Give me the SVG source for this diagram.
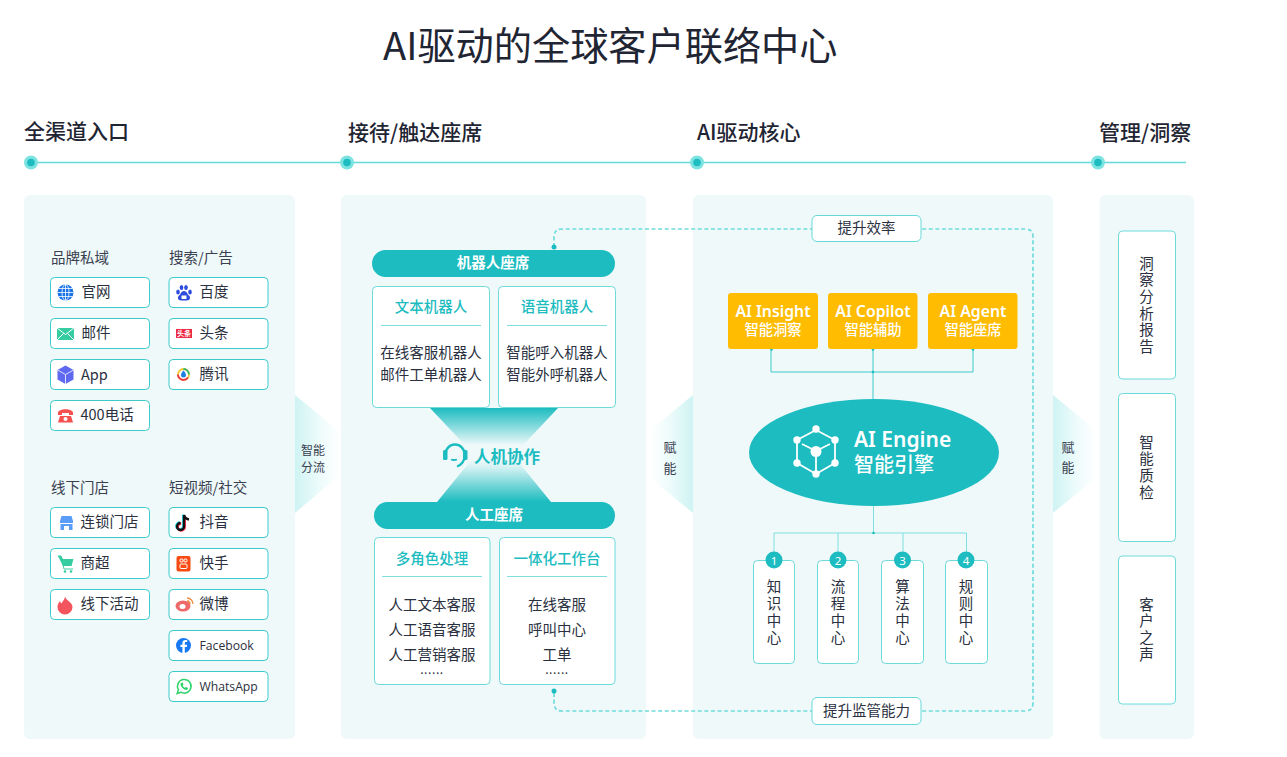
<svg xmlns="http://www.w3.org/2000/svg" width="1287" height="757" viewBox="0 0 1287 757">
<style>
text{font-family:"Noto Sans CJK SC","Noto Sans",sans-serif;fill:#2a3040}
.panel{fill:#eff9fa}
.h{font-size:21px;font-weight:500;fill:#1f2533}
.sec{font-size:14.5px;fill:#3a4050}
.item{fill:#fff;stroke:#3ccacb;stroke-width:1}
.it{font-size:14.5px}
.en{font-size:12.2px;font-family:"Open Sans","Noto Sans",sans-serif}
.card{fill:#fff;stroke:#6ddadb;stroke-width:1}
.ct{font-size:14.5px;font-weight:500;fill:#1cbcc0;text-anchor:middle}
.cb{font-size:14.5px;text-anchor:middle}
.dots{font-size:12px;letter-spacing:.6px;text-anchor:middle}
.div{stroke:#7fdfe0;stroke-width:1}
.pill{fill:#1cbcc0}
.pt{font-size:14.5px;font-weight:700;fill:#fff;text-anchor:middle}
.y{fill:#ffbc00}
.ye{font-size:15.8px;font-weight:600;fill:#fff;text-anchor:middle;font-family:"Noto Sans",sans-serif}
.yc{font-size:14.3px;font-weight:500;fill:#fff;text-anchor:middle}
.v{font-size:14.5px;writing-mode:vertical-rl;letter-spacing:2.5px}
.vr{letter-spacing:2.1px}
.w{font-size:12px;text-anchor:middle;fill:#3a4050}
.w2{font-size:13px;text-anchor:middle;fill:#3a4050}
.conn{fill:none;stroke:#3fc9ca;stroke-width:1}
.dash{fill:none;stroke:#6fdcdc;stroke-width:1.7;stroke-dasharray:4 2.6}
.lb{fill:#fff;stroke:#66d8d9;stroke-width:1}
.lt{font-size:14.5px;text-anchor:middle}
.tl{stroke:#62dad9;stroke-width:1.3}
.o{fill:#7de3e0}.i{fill:#1cbcc0}
.num{font-size:11.5px;fill:#fff;text-anchor:middle;font-family:"Noto Sans",sans-serif}
</style>
<defs>
<linearGradient id="wr" x1="0" x2="1" y1="0" y2="0"><stop offset="0" stop-color="#cff3f3"/><stop offset=".55" stop-color="#eefbfb"/><stop offset="1" stop-color="#fff"/></linearGradient>
<linearGradient id="wl" x1="1" x2="0" y1="0" y2="0"><stop offset="0" stop-color="#cff3f3"/><stop offset=".55" stop-color="#eefbfb"/><stop offset="1" stop-color="#fff"/></linearGradient>
<linearGradient id="ht" x1="0" x2="0" y1="0" y2="1"><stop offset="0" stop-color="#1cbcc0"/><stop offset=".55" stop-color="#1cbcc0" stop-opacity="0"/></linearGradient>
<linearGradient id="hb" x1="0" x2="0" y1="1" y2="0"><stop offset="0" stop-color="#1cbcc0"/><stop offset=".5" stop-color="#1cbcc0" stop-opacity=".12"/><stop offset=".6" stop-color="#1cbcc0" stop-opacity="0"/></linearGradient>
</defs>

<text id="title" x="383" y="60" style="font-size:38.2px;fill:#1f2533">AI驱动的全球客户联络中心</text>

<g id="timeline">
<line class="tl" x1="31" y1="162.5" x2="1186" y2="162.5"/>
<circle class="o" cx="31" cy="162.5" r="7"/><circle class="i" cx="31" cy="162.5" r="3.8"/>
<circle class="o" cx="347" cy="162.5" r="7"/><circle class="i" cx="347" cy="162.5" r="3.8"/>
<circle class="o" cx="697" cy="162.5" r="7"/><circle class="i" cx="697" cy="162.5" r="3.8"/>
<circle class="o" cx="1098" cy="162.5" r="7"/><circle class="i" cx="1098" cy="162.5" r="3.8"/>
<text class="h" x="24" y="139">全渠道入口</text>
<text class="h" x="348" y="140">接待/触达座席</text>
<text class="h" x="697" y="140">AI驱动核心</text>
<text class="h" x="1099" y="140">管理/洞察</text>
</g>

<g id="panels">
<rect class="panel" x="24" y="195" width="271" height="544" rx="6"/>
<rect class="panel" x="341" y="195" width="305" height="544" rx="6"/>
<rect class="panel" x="693" y="195" width="360" height="544" rx="6"/>
<rect class="panel" x="1099.500" y="195" width="94.500" height="544" rx="6"/>
</g>

<g id="wedges">
<polygon points="295,395 341,433 341,474 295,513" fill="url(#wr)"/>
<text class="w" x="313" y="455">智能</text><text class="w" x="313" y="472">分流</text>
<polygon points="693,395 650,430 650,478 693,513" fill="url(#wl)"/>
<text class="w2" x="670" y="452">赋</text><text class="w2" x="670" y="473">能</text>
<polygon points="1053,395 1096,430 1096,478 1053,513" fill="url(#wr)"/>
<text class="w2" x="1068" y="452">赋</text><text class="w2" x="1068" y="472">能</text>
</g>

<g id="section-labels">
<text class="sec" x="51" y="263">品牌私域</text>
<text class="sec" x="169" y="263">搜索/广告</text>
<text class="sec" x="51" y="493">线下门店</text>
<text class="sec" x="169" y="493">短视频/社交</text>
</g>

<g id="n-web"><rect class="item" x="50.500" y="277.500" width="99" height="30" rx="4"/>
<circle cx="65.500" cy="292.500" r="8" fill="#1a73e8"/><path d="M57.500 292.500h16M58.500 288.500h14M58.500 296.500h14M65.500 284.500v16" stroke="#fff" stroke-width=".8" fill="none"/><ellipse cx="65.500" cy="292.500" rx="3.500" ry="8" fill="none" stroke="#fff" stroke-width=".8"/>
<text class="it" x="81.500" y="297">官网</text></g>
<g id="n-mail"><rect class="item" x="50.500" y="318.500" width="99" height="30" rx="4"/>
<rect x="57" y="328" width="17" height="12" fill="#34cca0"/><path d="M57 328l8.500 6.500 8.500-6.500M57 340l6.500-6.500M74 340l-6.500-6.500" stroke="#fff" stroke-width="1" fill="none"/>
<text class="it" x="81.500" y="338">邮件</text></g>
<g id="n-app"><rect class="item" x="50.500" y="359.500" width="99" height="30" rx="4"/>
<path d="M65.500 365.500l8 4.500v9.500l-8 4.500-8-4.500V370z" fill="#5f68f0"/><path d="M57.500 370l8 4.500 8-4.500M65.500 374.500v9.500" stroke="#fff" stroke-width=".8" fill="none"/>
<text class="it" x="81" y="379.500">App</text></g>
<g id="n-400"><rect class="item" x="50.500" y="400.500" width="99" height="30" rx="4"/>
<path d="M58 413c0-5 15-5 15 0v2h-4v-2h-7v2h-4z" fill="#f4504f"/><path d="M60 416h11l2 6.500h-15z" fill="#f4504f"/><circle cx="65.500" cy="419" r="2" fill="#fff"/>
<text class="it" x="80.500" y="420">400电话</text></g>

<g id="n-baidu"><rect class="item" x="169" y="277.500" width="99" height="30" rx="4"/>
<ellipse cx="178" cy="292" rx="1.800" ry="2.500" fill="#2f4bdc"/><ellipse cx="181.500" cy="287.500" rx="1.800" ry="2.500" fill="#2f4bdc"/><ellipse cx="186" cy="287.500" rx="1.800" ry="2.500" fill="#2f4bdc"/><ellipse cx="190" cy="292" rx="1.800" ry="2.500" fill="#2f4bdc"/><path d="M184 291c-3 0-3 3-5 4.500-2 2-1 5 2 5h6c3 0 4-3 2-5-2-1.500-2-4.500-5-4.500z" fill="#2f4bdc"/><rect x="181.500" y="295.500" width="5" height="3.500" fill="#fff"/>
<text class="it" x="199.500" y="297">百度</text></g>
<g id="n-toutiao"><rect class="item" x="169" y="318.500" width="99" height="30" rx="4"/>
<rect x="176" y="329" width="16" height="9" fill="#ee2b47"/><text x="184" y="336" style="font-size:7px;fill:#fff;font-weight:700;text-anchor:middle">头条</text>
<text class="it" x="199.500" y="338">头条</text></g>
<g id="n-tencent"><rect class="item" x="169" y="359.500" width="99" height="30" rx="4"/>
<circle cx="183.500" cy="374.500" r="5.500" fill="none" stroke="#f7c531" stroke-width="1.800"/><path d="M183.500 369a5.500 5.500 0 0 1 5.500 5.500" fill="none" stroke="#35b66c" stroke-width="1.800"/><path d="M178 374.500a5.500 5.500 0 0 0 10 3" fill="none" stroke="#e8334a" stroke-width="1.800"/><path d="M183.500 370.500c-2 2.500-2.500 3.500-2.500 4.500a2.500 2.500 0 0 0 5 0c0-1-.5-2-2.500-4.500z" fill="#1f80e0"/>
<text class="it" x="199.500" y="379">腾讯</text></g>

<g id="n-store"><rect class="item" x="50.500" y="507.500" width="99" height="30" rx="4"/>
<path d="M61.500 516h10l1.500 5v2h-13v-2z" fill="#5a9cf8"/><path d="M60.500 524h12v6h-3.500v-4h-5v4h-3.500z" fill="#5a9cf8"/>
<text class="it" x="80.500" y="527">连锁门店</text></g>
<g id="n-super"><rect class="item" x="50.500" y="548.500" width="99" height="30" rx="4"/>
<path d="M58 556h3l2 3h10.500l-2 7H63z" fill="#34cca0"/><path d="M58 556h3l3 13h9" stroke="#34cca0" fill="none"/><circle cx="65" cy="571.500" r="1.300" fill="#34cca0"/><circle cx="71" cy="571.500" r="1.300" fill="#34cca0"/>
<text class="it" x="80.500" y="568">商超</text></g>
<g id="n-event"><rect class="item" x="50.500" y="589.500" width="99" height="30" rx="4"/>
<path d="M65 596.500c1 4 7.500 6 7.500 10.500a7.500 7.500 0 0 1-15 0c0-3 1.500-4.500 2.500-6 .5 1.500 1 2 1.500 2.500 1-2.500 3.500-4 3.500-7z" fill="#f4545d"/>
<text class="it" x="80.500" y="609">线下活动</text></g>

<g id="n-douyin"><rect class="item" x="169" y="507.500" width="99" height="30" rx="4"/>
<path d="M184 515v11.500a3.500 3.500 0 1 1-3.500-3.500" fill="none" stroke="#27d3dc" stroke-width="2.500" transform="translate(-.7 -.5)"/><path d="M184 515v11.500a3.500 3.500 0 1 1-3.500-3.500" fill="none" stroke="#f6304f" stroke-width="2.500" transform="translate(.7 .5)"/><path d="M184 515v11.500a3.500 3.500 0 1 1-3.500-3.500M184 515c.5 2.500 2.500 4 5 4.500" fill="none" stroke="#111" stroke-width="2.300"/>
<text class="it" x="199.500" y="527">抖音</text></g>
<g id="n-kuaishou"><rect class="item" x="169" y="548.500" width="99" height="30" rx="4"/>
<rect x="176.500" y="556" width="14" height="15.500" rx="2" fill="#fa4a14"/><rect x="180" y="559" width="3" height="3" rx="1" fill="none" stroke="#fff"/><rect x="184" y="559" width="3" height="3" rx="1" fill="none" stroke="#fff"/><rect x="180" y="564" width="7" height="4.500" rx="1" fill="none" stroke="#fff"/>
<text class="it" x="199.500" y="568">快手</text></g>
<g id="n-weibo"><rect class="item" x="169" y="589.500" width="99" height="30" rx="4"/>
<ellipse cx="183" cy="606" rx="7.500" ry="5.500" fill="#ee6a6a"/><ellipse cx="182.500" cy="606.500" rx="3" ry="2.500" fill="#fff"/><path d="M187 598a6 6 0 0 1 6 6M187 601a3 3 0 0 1 3 3" fill="none" stroke="#f08a40" stroke-width="1.300"/>
<text class="it" x="199.500" y="609">微博</text></g>
<g id="n-facebook"><rect class="item" x="169" y="630.500" width="99" height="30" rx="4"/>
<circle cx="183.500" cy="645.500" r="7.500" fill="#1877f2"/><path d="M184.800 653v-6h2l.4-2.300h-2.400v-1.500c0-.7.300-1.200 1.300-1.200h1.100v-2c-.5 0-1.100-.1-1.700-.1-1.900 0-3.100 1.100-3.100 3.100v1.700h-2v2.300h2v6z" fill="#fff"/>
<text class="en" x="199.500" y="650">Facebook</text></g>
<g id="n-whatsapp"><rect class="item" x="169" y="671.500" width="99" height="30" rx="4"/>
<path d="M177.200 693.500l1.200-3.800a6.800 6.800 0 1 1 2.500 2.500z" fill="none" stroke="#2fd268" stroke-width="1.500"/><path d="M181 683c-1 1-.5 3 1.500 5s4 2.500 5 1.500l.5-1.500-2-1-1 .8c-1-.4-2-1.400-2.300-2.300l.8-1-1-2z" fill="#2fd268"/>
<text class="en" x="199.500" y="691">WhatsApp</text></g>

<g id="connectors">
<path class="dash" d="M554 247V237q0-8 8-8H1025q8 0 8 8V703q0 8-8 8H562q-8 0-8-8V691"/>
<circle cx="554" cy="247" r="2.500" fill="#1cbcc0"/><circle cx="554" cy="691" r="2.500" fill="#1cbcc0"/>
<path class="conn" d="M771 349V372H973V349M873 349V399"/>
<circle cx="771.500" cy="349.500" r="1.300" fill="#1cbcc0"/><circle cx="873" cy="349.500" r="1.300" fill="#1cbcc0"/><circle cx="973" cy="349.500" r="1.300" fill="#1cbcc0"/><circle cx="873" cy="372" r="1.300" fill="#1cbcc0"/>
<path class="conn" style="stroke:#7fdfe0" d="M873.500 506V533M774 560V533H966.500V560M838 533V560M903 533V560"/>
<circle cx="873.500" cy="533" r="1.300" fill="#1cbcc0"/>
</g>

<g id="n-robot-seat"><rect class="pill" x="372" y="250" width="243" height="27" rx="13.500"/><text class="pt" x="493" y="268">机器人座席</text></g>
<g id="n-text-bot"><rect class="card" x="372.500" y="286.500" width="117" height="121" rx="4"/>
<text class="ct" x="431" y="312">文本机器人</text><line class="div" x1="381" y1="325.500" x2="481" y2="325.500"/>
<text class="cb" x="431" y="358">在线客服机器人</text><text class="cb" x="431" y="380">邮件工单机器人</text></g>
<g id="n-voice-bot"><rect class="card" x="498.500" y="286.500" width="117" height="121" rx="4"/>
<text class="ct" x="557" y="312">语音机器人</text><line class="div" x1="507" y1="325.500" x2="607" y2="325.500"/>
<text class="cb" x="557" y="358">智能呼入机器人</text><text class="cb" x="557" y="380">智能外呼机器人</text></g>

<g id="n-collab">
<polygon points="430,408 558,408 494,476" fill="url(#ht)"/>
<polygon points="437,502 551,502 494,432" fill="url(#hb)"/>
<path d="M445.500 454a9.500 9.500 0 0 1 19 0" fill="none" stroke="#1cbcc0" stroke-width="2.500"/><path d="M465 455c0 5.500-3.500 10-8 11.500" fill="none" stroke="#1cbcc0" stroke-width="2.300"/>
<rect x="443" y="450" width="4.500" height="10" rx="1.500" fill="#1cbcc0"/><rect x="463" y="450" width="4.500" height="10" rx="1.500" fill="#1cbcc0"/><path d="M451 459.500q3 1 6 0" fill="none" stroke="#1cbcc0" stroke-width="1.800"/>
<text x="474" y="463" style="font-size:16.500px;font-weight:700;fill:#1cbcc0">人机协作</text>
</g>

<g id="n-human-seat"><rect class="pill" x="374" y="502" width="241" height="27" rx="13.500"/><text class="pt" x="494" y="520">人工座席</text></g>
<g id="n-multi"><rect class="card" x="374.500" y="537.500" width="115.500" height="147" rx="4"/>
<text class="ct" x="432" y="563.500">多角色处理</text><line class="div" x1="382" y1="576.500" x2="482" y2="576.500"/>
<text class="cb" x="432" y="610">人工文本客服</text><text class="cb" x="432" y="635">人工语音客服</text><text class="cb" x="432" y="660">人工营销客服</text><text class="dots" x="432" y="673.500">......</text></g>
<g id="n-workbench"><rect class="card" x="499.500" y="537.500" width="115.500" height="147" rx="4"/>
<text class="ct" x="557" y="563.500">一体化工作台</text><line class="div" x1="507" y1="576.500" x2="607" y2="576.500"/>
<text class="cb" x="557" y="610">在线客服</text><text class="cb" x="557" y="635">呼叫中心</text><text class="cb" x="557" y="660">工单</text><text class="dots" x="557" y="673.500">......</text></g>

<g id="n-efficiency"><rect class="lb" x="812" y="215.500" width="109" height="26" rx="5"/><text class="lt" x="866.500" y="233">提升效率</text></g>
<g id="n-monitor"><rect class="lb" x="812" y="697.500" width="109" height="27" rx="5"/><text class="lt" x="866.500" y="716">提升监管能力</text></g>

<g id="n-insight"><rect class="y" x="728" y="293" width="90" height="56" rx="3"/><text class="ye" x="773" y="317">AI Insight</text><text class="yc" x="773" y="335">智能洞察</text></g>
<g id="n-copilot"><rect class="y" x="828" y="293" width="89.500" height="56" rx="3"/><text class="ye" x="873" y="317">AI Copilot</text><text class="yc" x="873" y="335">智能辅助</text></g>
<g id="n-agent"><rect class="y" x="928" y="293" width="89.500" height="56" rx="3"/><text class="ye" x="973" y="317">AI Agent</text><text class="yc" x="973" y="335">智能座席</text></g>

<g id="n-engine"><ellipse cx="874" cy="452.500" rx="125" ry="53.500" fill="#1cbcc0"/>
<path d="M816 430L835 440V463L816 474L797 463V440ZM816 451L802 444M816 451L830 444M816 451V474" fill="none" stroke="#fff" stroke-width="1.800"/>
<g fill="#fff"><circle cx="816" cy="429" r="3.700"/><circle cx="835" cy="440" r="3.700"/><circle cx="835" cy="463" r="3.700"/><circle cx="816" cy="474" r="3.700"/><circle cx="797" cy="463" r="3.700"/><circle cx="797" cy="440" r="3.700"/><circle cx="816" cy="451.500" r="5.500"/></g>
<text x="854" y="447" style="font-size:21px;font-weight:600;fill:#fff;font-family:'Noto Sans',sans-serif">AI Engine</text>
<text x="854" y="472" style="font-size:20px;font-weight:500;fill:#fff">智能引擎</text></g>

<g id="n-k1"><rect class="card" x="753.500" y="560.500" width="41" height="103" rx="4"/><circle cx="774" cy="560" r="8.500" fill="#1cbcc0"/><text class="num" x="774" y="564.500">1</text>
<text class="v" x="774" y="579">知识中心</text></g>
<g id="n-k2"><rect class="card" x="817.500" y="560.500" width="41" height="103" rx="4"/><circle cx="838" cy="560" r="8.500" fill="#1cbcc0"/><text class="num" x="838" y="564.500">2</text>
<text class="v" x="838" y="579">流程中心</text></g>
<g id="n-k3"><rect class="card" x="881.500" y="560.500" width="42" height="103" rx="4"/><circle cx="902.500" cy="560" r="8.500" fill="#1cbcc0"/><text class="num" x="902.500" y="564.500">3</text>
<text class="v" x="902.500" y="579">算法中心</text></g>
<g id="n-k4"><rect class="card" x="945.500" y="560.500" width="42" height="103" rx="4"/><circle cx="966" cy="560" r="8.500" fill="#1cbcc0"/><text class="num" x="966" y="564.500">4</text>
<text class="v" x="966" y="579">规则中心</text></g>

<g id="n-report"><rect class="card" x="1118.500" y="231" width="57" height="148" rx="4"/><text class="v vr" x="1146.500" y="256">洞察分析报告</text></g>
<g id="n-qa"><rect class="card" x="1118.500" y="393.500" width="57" height="148" rx="4"/><text class="v vr" x="1146.500" y="435">智能质检</text></g>
<g id="n-voc"><rect class="card" x="1118.500" y="556" width="57" height="148" rx="4"/><text class="v vr" x="1146.500" y="597">客户之声</text></g>
</svg>
